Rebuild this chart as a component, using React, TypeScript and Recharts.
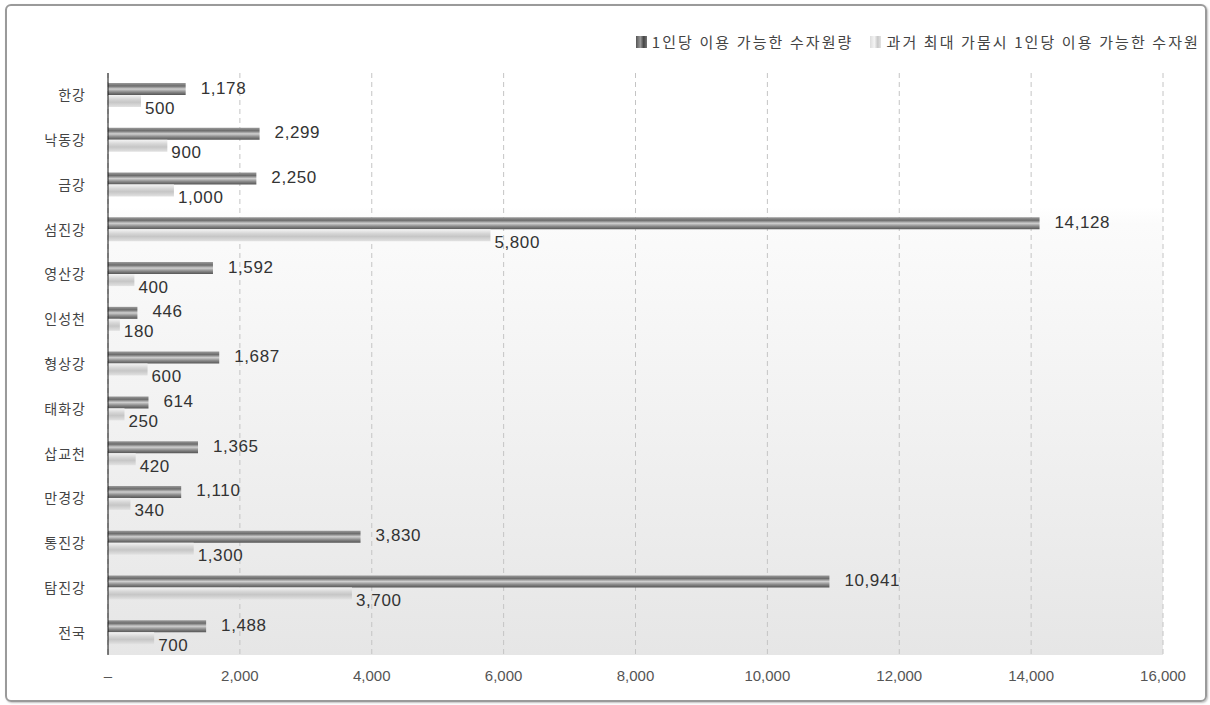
import { BarChart, Bar, XAxis, YAxis, CartesianGrid, LabelList } from 'recharts';

const rivers = ['한강', '낙동강', '금강', '섬진강', '영산강', '인성천', '형상강', '태화강', '삽교천', '만경강', '통진강', '탐진강', '전국'];
const available = [1178, 2299, 2250, 14128, 1592, 446, 1687, 614, 1365, 1110, 3830, 10941, 1488];
const drought = [500, 900, 1000, 5800, 400, 180, 600, 250, 420, 340, 1300, 3700, 700];
const xTicks = [0, 2000, 4000, 6000, 8000, 10000, 12000, 14000, 16000];

const seriesNames = ['1인당 이용 가능한 수자원량', '과거 최대 가뭄시 1인당 이용 가능한 수자원'];

const data = rivers.map((name, i) => ({ name, available: available[i], drought: drought[i] }));

const KFONT = '"Noto Sans CJK KR", "Noto Sans", sans-serif';
const NFONT = '"Liberation Sans", Arial, sans-serif';
const fmt = (v: number) => v.toLocaleString('en-US');

const DarkLabel = (props: any) => {
  const { x, y, width, height, value } = props;
  return (
    <text x={x + width + 15} y={y + height / 2 - 1} dominantBaseline="central" fontSize={17} letterSpacing={0.6} fill="#333" fontFamily={NFONT}>
      {fmt(value)}
    </text>
  );
};

const LightLabel = (props: any) => {
  const { x, y, width, height, value } = props;
  return (
    <text x={x + width + 4} y={y + height / 2 + 7} dominantBaseline="central" fontSize={17} letterSpacing={0.6} fill="#333" fontFamily={NFONT}>
      {fmt(value)}
    </text>
  );
};

const LegendBox = () => (
  <div
    style={{
      position: 'absolute',
      top: 31,
      right: 10,
      display: 'flex',
      alignItems: 'center',
      fontFamily: KFONT,
      fontSize: 15,
      letterSpacing: 2.1,
      color: '#444',
      whiteSpace: 'nowrap',
    }}
  >
    <span style={{ width: 11, height: 12, marginRight: 5, background: 'linear-gradient(to right, #555, #999 40%, #444 70%, #777)' }} />
    <span style={{ marginRight: 16 }}>{seriesNames[0]}</span>
    <span style={{ width: 11, height: 12, marginRight: 6, background: 'linear-gradient(to right, #ddd, #f4f4f4 40%, #c8c8c8 70%, #e4e4e4)' }} />
    <span>{seriesNames[1]}</span>
  </div>
);

export default function App() {
  return (
    <div style={{ position: 'absolute', left: 0, top: 0, width: 1210, height: 705, background: '#fff' }}>
      <div
        style={{
          position: 'absolute',
          left: 5,
          top: 4,
          width: 1198,
          height: 694,
          border: '2px solid #9a9a9a',
          borderRadius: 6,
          boxShadow: '1px 1px 2px rgba(0,0,0,0.25)',
        }}
      />
      <LegendBox />
      <div style={{ position: 'absolute', left: 0, top: 0 }}>
        <BarChart
          width={1210}
          height={705}
          data={data}
          layout="vertical"
          margin={{ top: 73, right: 47, bottom: 0, left: 0 }}
          barGap={0}
          barSize={12}
        >
          <defs>
            <linearGradient id="bgGrad" x1="0" y1="0" x2="0" y2="1">
              <stop offset="0" stopColor="#ffffff" />
              <stop offset="0.23" stopColor="#ffffff" />
              <stop offset="0.26" stopColor="#fbfbfb" />
              <stop offset="1" stopColor="#e6e6e6" />
            </linearGradient>
            <linearGradient id="darkGrad" x1="0" y1="0" x2="0" y2="1">
              <stop offset="0" stopColor="#9a9a9a" />
              <stop offset="0.25" stopColor="#6c6c6c" />
              <stop offset="0.5" stopColor="#cfcfcf" />
              <stop offset="0.75" stopColor="#8a8a8a" />
              <stop offset="1" stopColor="#555555" />
            </linearGradient>
            <linearGradient id="lightGrad" x1="0" y1="0" x2="0" y2="1">
              <stop offset="0" stopColor="#f4f4f4" />
              <stop offset="0.35" stopColor="#d6d6d6" />
              <stop offset="0.6" stopColor="#c6c6c6" />
              <stop offset="1" stopColor="#e2e2e2" />
            </linearGradient>
          </defs>
          <CartesianGrid horizontal={false} stroke="#c4c4c4" strokeDasharray="5 4" fill="url(#bgGrad)" />
          <XAxis
            type="number"
            domain={[0, 16000]}
            ticks={xTicks}
            height={50}
            axisLine={false}
            tickLine={false}
            tickMargin={9}
            tick={{ fontSize: 15, fill: '#555', fontFamily: NFONT }}
            tickFormatter={(v: number) => (v === 0 ? '–' : fmt(v))}
          />
          <YAxis
            type="category"
            dataKey="name"
            width={108}
            axisLine={{ stroke: '#111', strokeWidth: 1 }}
            tickLine={false}
            tickMargin={16}
            tick={{ fontSize: 14, fill: '#444', fontFamily: KFONT, letterSpacing: 1 }}
          />
          <Bar dataKey="available" fill="url(#darkGrad)" isAnimationActive={false}>
            <LabelList dataKey="available" content={<DarkLabel />} />
          </Bar>
          <Bar dataKey="drought" fill="url(#lightGrad)" isAnimationActive={false}>
            <LabelList dataKey="drought" content={<LightLabel />} />
          </Bar>
        </BarChart>
      </div>
    </div>
  );
}
